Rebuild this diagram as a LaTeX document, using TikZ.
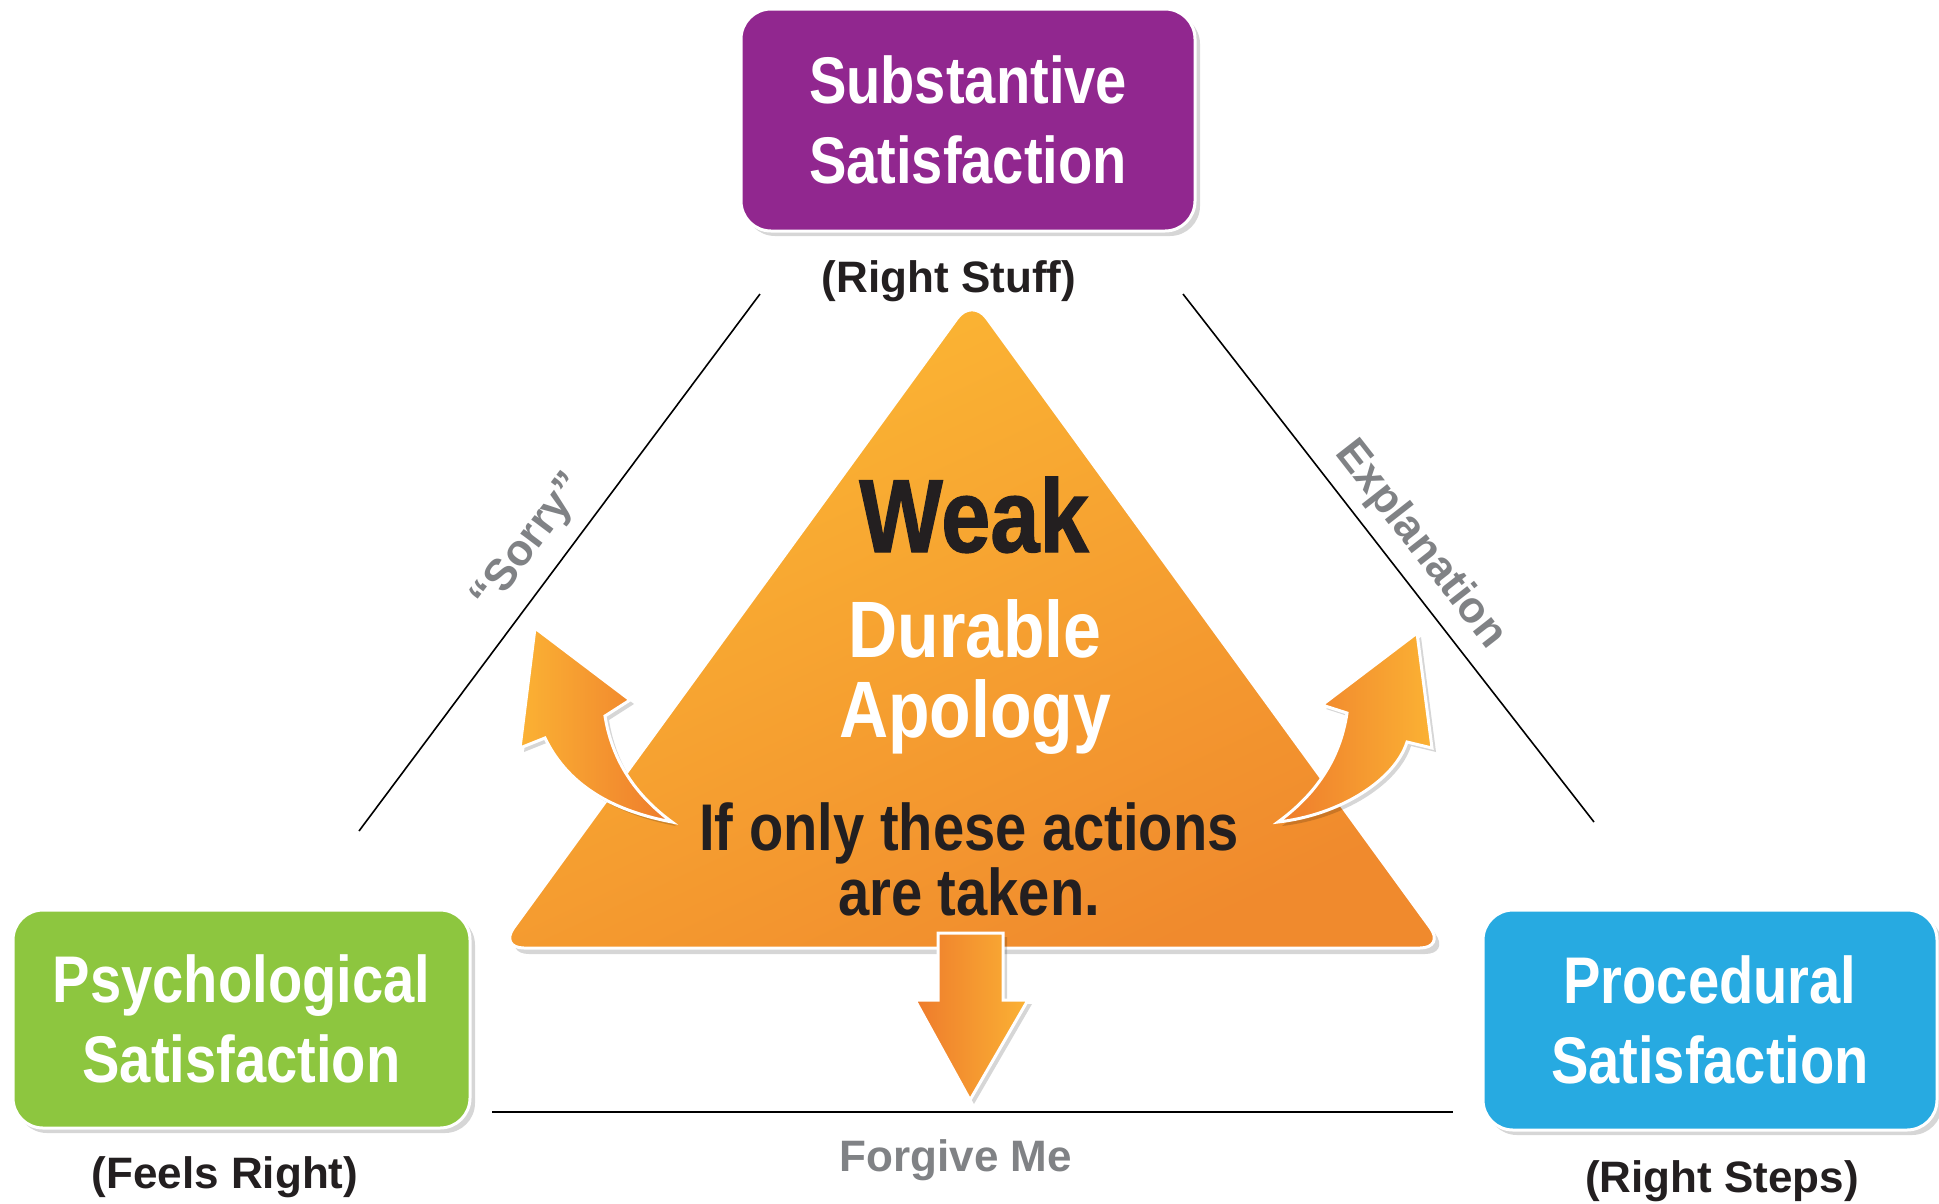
\documentclass[tikz,border=0pt]{standalone}
\usepackage{fontspec}
\setmainfont{Liberation Sans}
\newfontfamily\condf[FakeStretch=0.85]{Liberation Sans}
\newfontfamily\heavyf[FakeStretch=0.85,FakeBold=1.2]{Liberation Sans}
\newfontfamily\labf{Liberation Sans}
\definecolor{cpurple}{HTML}{91278F}
\definecolor{cgreen}{HTML}{8DC63F}
\definecolor{cblue}{HTML}{27AAE1}
\definecolor{triT}{HTML}{FCB834}
\definecolor{triB}{HTML}{F08A2D}
\definecolor{arrY}{HTML}{FBB234}
\definecolor{arrO}{HTML}{EE7B2C}
\definecolor{txtgray}{HTML}{808285}
\definecolor{txtblack}{HTML}{231F20}
\begin{document}
\begin{tikzpicture}[x=1pt,y=-1pt,
  box/.style={rectangle, rounded corners=30pt, draw=white, line width=3pt, inner sep=0pt,
    text=white, align=center, font=\condf\bfseries\fontsize{66}{80}\selectfont},
  lab/.style={anchor=base, text=txtblack, inner sep=0pt, font=\labf\bfseries\fontsize{44}{50}\selectfont},
  glab/.style={text=txtgray, inner sep=0pt, font=\labf\bfseries\fontsize{44}{50}\selectfont},
  side/.style={draw=black, line width=1.6pt},
  shad/.style={fill=black, opacity=0.16},
  arr/.style={draw=white, line width=3pt, line join=miter}]
\useasboundingbox (0,0) rectangle (1939,1203);
\fill[white] (0,0) rectangle (1939,1203);

% outer triangle sides
\coordinate (l1) at (760,294);  \coordinate (l2) at (359,831);
\coordinate (r1) at (1183,294); \coordinate (r2) at (1594,822);
\coordinate (b1) at (492,1112); \coordinate (b2) at (1453,1112);
\draw[side] (l1) -- (l2);
\draw[side] (r1) -- (r2);
\draw[side, line width=2pt] (b1) -- (b2);

% side labels
\node[glab, rotate=53] (sorry) at (530,543) {“Sorry”};
\node[glab, rotate=-52] (expl) at (1420,545) {Explanation};
\node[glab, anchor=base] (forg) at (956,1171) {Forgive Me};

% box shadows
\fill[shad, rounded corners=30pt] (745,14) rectangle (1200,236);
\fill[shad, rounded corners=30pt] (17,915) rectangle (475,1133);
\fill[shad, rounded corners=30pt] (1487,915) rectangle (1942,1135);

% boxes
\node[box, fill=cpurple, minimum width=454pt, minimum height=222pt] (sub) at (968,120) {Substantive\\Satisfaction};
\node[box, fill=cgreen, minimum width=457pt, minimum height=218pt] (psy) at (241.5,1019) {Psychological\\Satisfaction};
\node[box, fill=cblue, minimum width=454pt, minimum height=220pt] (pro) at (1710,1020) {Procedural\\Satisfaction};

% box labels
\node[lab] (subl) at (949,292) {(Right Stuff)};
\node[lab] (psyl) at (225,1188) {(Feels Right)};
\node[lab] (prol) at (1722,1192) {(Right Steps)};

% central triangle
\coordinate (tA) at (972,298);
\coordinate (tB) at (499,948);
\coordinate (tC) at (1445,948);
\fill[shad, rounded corners=25pt] ([shift={(5,6)}]tA) -- ([shift={(5,6)}]tC) -- ([shift={(5,6)}]tB) -- cycle;
\path[draw=white, line width=3pt, rounded corners=25pt, top color=triT, bottom color=triB, shading angle=25]
  (tA) -- (tC) -- (tB) -- cycle;

% curved arrows
\fill[shad] (539,632) -- (634,704) -- (609,720) .. controls (616,764) and (639,799) .. (676,826)
  .. controls (624,816) and (574,794) .. (549,742) -- (524,752) -- cycle;
\path[arr, left color=arrY, right color=arrO]
  (535,628) -- (630,700) -- (605,716) .. controls (612,760) and (635,795) .. (672,822)
  .. controls (620,812) and (570,790) .. (545,738) -- (520,748) -- cycle;

\fill[shad] (1421,637) -- (1436,752) -- (1411,746) .. controls (1399,784) and (1344,819) .. (1282,826)
  .. controls (1319,799) and (1344,764) .. (1351,717) -- (1326,709) -- cycle;
\path[arr, left color=arrO, right color=arrY]
  (1417,633) -- (1432,748) -- (1407,742) .. controls (1395,780) and (1340,815) .. (1278,822)
  .. controls (1315,795) and (1340,760) .. (1347,713) -- (1322,705) -- cycle;

% down arrow
\fill[shad] (942,937) -- (1007,937) -- (1007,1004) -- (1032,1004) -- (974,1104) -- (919,1004) -- (942,1004) -- cycle;
\path[arr, left color=arrO, right color=arrY]
  (938,933) -- (1003,933) -- (1003,1000) -- (1028,1000) -- (970,1100) -- (915,1000) -- (938,1000) -- cycle;

% triangle texts (anchor=base is the baseline of the last line)
\node[anchor=base, inner sep=0pt, text=txtblack, font=\heavyf\bfseries\fontsize{104}{110}\selectfont] (weak) at (974,552) {Weak};
\node[anchor=base, inner sep=0pt, align=center, text=white, font=\condf\bfseries\fontsize{80}{80}\selectfont] (dur) at (975,737) {Durable\\Apology};
\node[anchor=base, inner sep=0pt, align=center, text=txtblack, font=\condf\bfseries\fontsize{66}{65}\selectfont] (ifonly) at (969,915) {If only these actions\\are taken.};
\end{tikzpicture}
\end{document}
